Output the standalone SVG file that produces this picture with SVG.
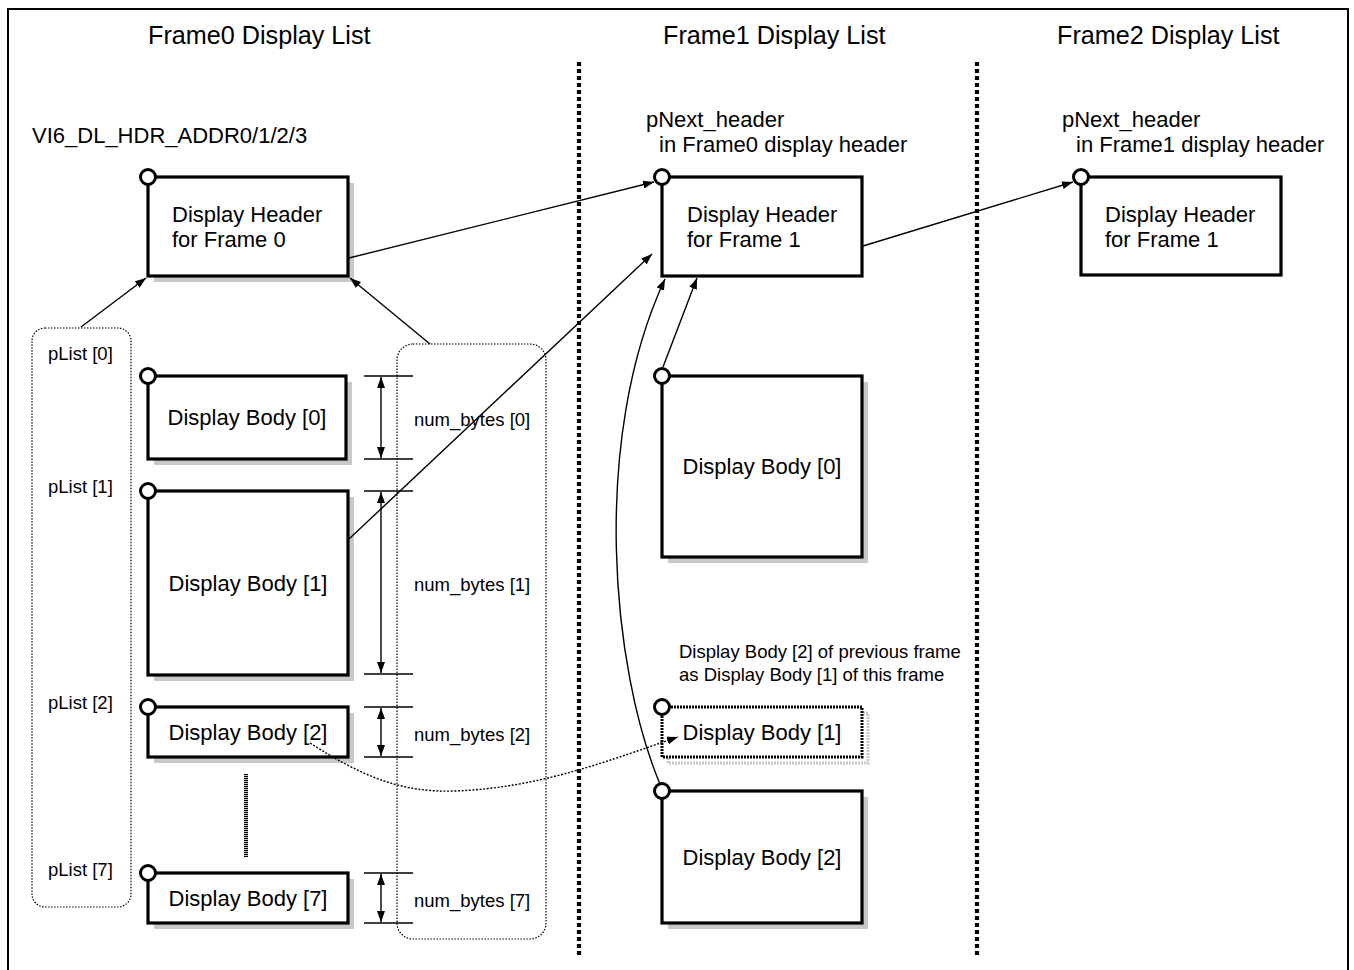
<svg xmlns="http://www.w3.org/2000/svg" width="1354" height="970" viewBox="0 0 1354 970">
<style>
text{font-family:"Liberation Sans",Arial,sans-serif;fill:#000}
.title{font-size:25.2px}
.big{font-size:22px}
.mid{font-size:22px}
.sm{font-size:18.5px}
.box{fill:#fff;stroke:#000;stroke-width:3.2}
.shadow{fill:#c8c8c8;stroke:none}
.pin{fill:#fff;stroke:#000;stroke-width:3}
.con{fill:none;stroke:#000;stroke-width:1.4}
.sep{fill:none;stroke:#000;stroke-width:4.2;stroke-dasharray:4 3}
.grp{fill:none;stroke:#000;stroke-width:1.2;stroke-dasharray:1.5 1.5}
.tick{stroke:#000;stroke-width:1.4}
</style>
<defs>
<marker id="ah" viewBox="0 0 11 8" refX="11" refY="4" markerWidth="11" markerHeight="8" orient="auto" markerUnits="userSpaceOnUse"><path d="M0,0 L11,4 L0,8 z" fill="#000"/></marker>
<marker id="ad" viewBox="0 0 11 8" refX="11" refY="4" markerWidth="11" markerHeight="8" orient="auto-start-reverse" markerUnits="userSpaceOnUse"><path d="M0,0 L11,4 L0,8 z" fill="#000"/></marker>
</defs>
<rect x="8" y="9" width="1340" height="990" fill="#fff" stroke="#000" stroke-width="2"/>

<g id="titles">
<text class="title" x="148" y="44">Frame0 Display List</text>
<text class="title" x="663" y="44">Frame1 Display List</text>
<text class="title" x="1057" y="44">Frame2 Display List</text>
</g>
<g id="separators">
<line class="sep" x1="579" y1="62" x2="579" y2="955"/>
<line class="sep" x1="977" y1="62" x2="977" y2="955"/>
</g>

<g id="labels">
<text class="big" x="32" y="143">VI6_DL_HDR_ADDR0/1/2/3</text>
<text class="mid" x="646" y="127">pNext_header</text>
<text class="mid" x="659" y="152">in Frame0 display header</text>
<text class="mid" x="1062" y="127">pNext_header</text>
<text class="mid" x="1076" y="152">in Frame1 display header</text>
<text class="sm" x="679" y="658">Display Body [2] of previous frame</text>
<text class="sm" x="679" y="681">as Display Body [1] of this frame</text>
</g>

<g id="plist-group">
<rect class="grp" x="32" y="328" width="99" height="579" rx="13"/>
<text class="sm" x="48" y="360">pList [0]</text>
<text class="sm" x="48" y="493">pList [1]</text>
<text class="sm" x="48" y="709">pList [2]</text>
<text class="sm" x="48" y="876">pList [7]</text>
</g>
<g id="numbytes-group">
<rect class="grp" x="397" y="344" width="149" height="595" rx="16"/>
<text class="sm" x="414" y="426">num_bytes [0]</text>
<text class="sm" x="414" y="591">num_bytes [1]</text>
<text class="sm" x="414" y="741">num_bytes [2]</text>
<text class="sm" x="414" y="907">num_bytes [7]</text>
</g>

<g id="dimensions">
<line class="tick" x1="364" y1="376" x2="413" y2="376"/>
<line class="tick" x1="364" y1="459" x2="413" y2="459"/>
<line class="con" x1="381" y1="377" x2="381" y2="458" marker-start="url(#ad)" marker-end="url(#ad)"/>
<line class="tick" x1="364" y1="491" x2="413" y2="491"/>
<line class="tick" x1="364" y1="674" x2="413" y2="674"/>
<line class="con" x1="381" y1="492" x2="381" y2="673" marker-start="url(#ad)" marker-end="url(#ad)"/>
<line class="tick" x1="364" y1="707" x2="413" y2="707"/>
<line class="tick" x1="364" y1="757" x2="413" y2="757"/>
<line class="con" x1="381" y1="708" x2="381" y2="756" marker-start="url(#ad)" marker-end="url(#ad)"/>
<line class="tick" x1="364" y1="873" x2="413" y2="873"/>
<line class="tick" x1="364" y1="923" x2="413" y2="923"/>
<line class="con" x1="381" y1="874" x2="381" y2="922" marker-start="url(#ad)" marker-end="url(#ad)"/>
</g>

<g id="f0-header">
<rect class="shadow" x="154" y="183" width="200" height="99"/>
<rect class="box" x="148" y="177" width="200" height="99"/>
<circle class="pin" cx="148" cy="177" r="7.5"/>
<text class="big" x="172" y="222">Display Header</text>
<text class="big" x="172" y="247">for Frame 0</text>
</g>
<g id="f0-body0">
<rect class="shadow" x="154" y="382" width="198" height="83"/>
<rect class="box" x="148" y="376" width="198" height="83"/>
<circle class="pin" cx="148" cy="376" r="7.5"/>
<text class="big" x="247" y="425" text-anchor="middle">Display Body [0]</text>
</g>
<g id="f0-body1">
<rect class="shadow" x="154" y="497" width="200" height="184"/>
<rect class="box" x="148" y="491" width="200" height="184"/>
<circle class="pin" cx="148" cy="491" r="7.5"/>
<text class="big" x="248" y="591" text-anchor="middle">Display Body [1]</text>
</g>
<g id="f0-body2">
<rect class="shadow" x="154" y="713" width="200" height="50"/>
<rect class="box" x="148" y="707" width="200" height="50"/>
<circle class="pin" cx="148" cy="707" r="7.5"/>
<text class="big" x="248" y="740" text-anchor="middle">Display Body [2]</text>
</g>
<g id="f0-ellipsis">
<line x1="246" y1="774" x2="246" y2="857" stroke="#000" stroke-width="4" stroke-dasharray="1.2 0.8"/>
</g>
<g id="f0-body7">
<rect class="shadow" x="154" y="879" width="200" height="50"/>
<rect class="box" x="148" y="873" width="200" height="50"/>
<circle class="pin" cx="148" cy="873" r="7.5"/>
<text class="big" x="248" y="906" text-anchor="middle">Display Body [7]</text>
</g>

<g id="f1-header">
<rect class="box" x="662" y="177" width="200" height="99"/>
<circle class="pin" cx="662" cy="177" r="7.5"/>
<text class="big" x="687" y="222">Display Header</text>
<text class="big" x="687" y="247">for Frame 1</text>
</g>
<g id="f1-body0">
<rect class="shadow" x="668" y="382" width="200" height="181"/>
<rect class="box" x="662" y="376" width="200" height="181"/>
<circle class="pin" cx="662" cy="376" r="7.5"/>
<text class="big" x="762" y="474" text-anchor="middle">Display Body [0]</text>
</g>
<g id="f1-body1">
<rect x="668" y="713" width="200" height="50" fill="none" stroke="#c8c8c8" stroke-width="3" stroke-dasharray="2 1"/>
<rect x="662" y="707" width="200" height="50" fill="#fff" stroke="#000" stroke-width="3" stroke-dasharray="2 1"/>
<circle class="pin" cx="662" cy="707" r="7.5"/>
<text class="big" x="762" y="740" text-anchor="middle">Display Body [1]</text>
</g>
<g id="f1-body2">
<rect class="shadow" x="668" y="797" width="200" height="132"/>
<rect class="box" x="662" y="791" width="200" height="132"/>
<circle class="pin" cx="662" cy="791" r="7.5"/>
<text class="big" x="762" y="865" text-anchor="middle">Display Body [2]</text>
</g>

<g id="f2-header">
<rect class="box" x="1081" y="177" width="200" height="98"/>
<circle class="pin" cx="1081" cy="177" r="7.5"/>
<text class="big" x="1105" y="222">Display Header</text>
<text class="big" x="1105" y="247">for Frame 1</text>
</g>

<g id="connectors">
<line class="con" x1="349" y1="258" x2="654" y2="182" marker-end="url(#ah)"/>
<line class="con" x1="863" y1="246" x2="1073" y2="182" marker-end="url(#ah)"/>
<line class="con" x1="81" y1="327" x2="146" y2="278" marker-end="url(#ah)"/>
<line class="con" x1="430" y1="344" x2="350" y2="278" marker-end="url(#ah)"/>
<line class="con" x1="349" y1="539" x2="652" y2="254" marker-end="url(#ah)"/>
<line class="con" x1="663" y1="367" x2="697" y2="278" marker-end="url(#ah)"/>
<path class="con" d="M660,784 C612,670 590,440 665,279" marker-end="url(#ah)"/>
<path class="con" d="M310,743 C360,775 400,793 455,791 C540,788 610,760 678,737" stroke-dasharray="2 1.6" marker-end="url(#ah)"/>
</g>
</svg>
